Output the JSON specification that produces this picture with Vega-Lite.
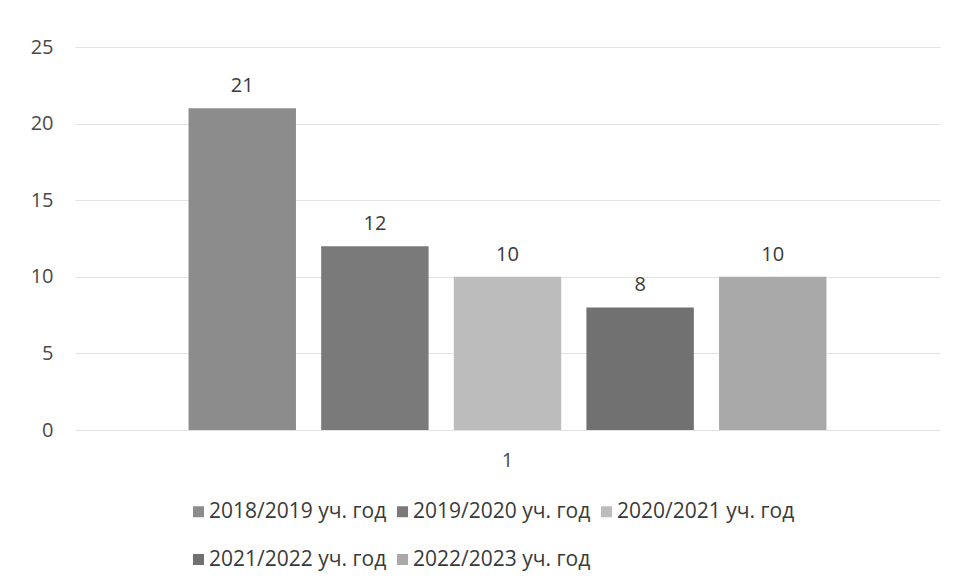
{
  "$schema": "https://vega.github.io/schema/vega-lite/v6.json",
  "width": 865,
  "height": 383,
  "autosize": {"type": "none"},
  "padding": {"left": 75, "top": 47, "right": 15, "bottom": 149},
  "background": "white",
  "data": {
    "values": [
      {"cat": "1", "series": "2018/2019 уч. год", "value": 21},
      {"cat": "1", "series": "2019/2020 уч. год", "value": 12},
      {"cat": "1", "series": "2020/2021 уч. год", "value": 10},
      {"cat": "1", "series": "2021/2022 уч. год", "value": 8},
      {"cat": "1", "series": "2022/2023 уч. год", "value": 10}
    ]
  },
  "config": {
    "font": "Open Sans",
    "view": {"stroke": null},
    "axis": {"labelFont": "Open Sans", "labelColor": "#4a4a4a", "labelFontSize": 20}
  },
  "encoding": {
    "x": {
      "field": "cat", "type": "nominal", "title": null,
      "scale": {"paddingInner": 0, "paddingOuter": 0.178},
      "axis": {"labelAngle": 0, "domain": false, "ticks": false, "labelPadding": 20, "grid": false}
    },
    "xOffset": {
      "field": "series", "type": "nominal",
      "scale": {"paddingInner": 0.19, "paddingOuter": 0}
    },
    "y": {
      "field": "value", "type": "quantitative", "title": null,
      "scale": {"domain": [0, 25]},
      "axis": {"values": [0, 5, 10, 15, 20, 25], "domain": false, "ticks": false, "labelPadding": 22, "gridColor": "#e3e3e3", "gridWidth": 1}
    }
  },
  "layer": [
    {
      "mark": {"type": "bar"},
      "encoding": {
        "color": {
          "field": "series", "type": "nominal", "title": null,
          "scale": {"range": ["#8c8c8c", "#7a7a7a", "#bcbcbc", "#717171", "#a9a9a9"]},
          "legend": {
            "orient": "none", "legendX": 113, "legendY": 454,
            "direction": "horizontal", "columns": 3,
            "symbolType": "square", "symbolSize": 121, "symbolStrokeWidth": 0,
            "labelFont": "Open Sans", "labelFontSize": 21, "labelColor": "#3a3a3a",
            "labelOffset": 0, "columnPadding": 5, "rowPadding": 26,
            "labelLimit": 400
          }
        }
      }
    },
    {
      "mark": {"type": "text", "baseline": "bottom", "dy": -12, "fontSize": 20, "color": "#3a3a3a", "font": "Open Sans"},
      "encoding": {"text": {"field": "value", "type": "quantitative"}}
    }
  ]
}
